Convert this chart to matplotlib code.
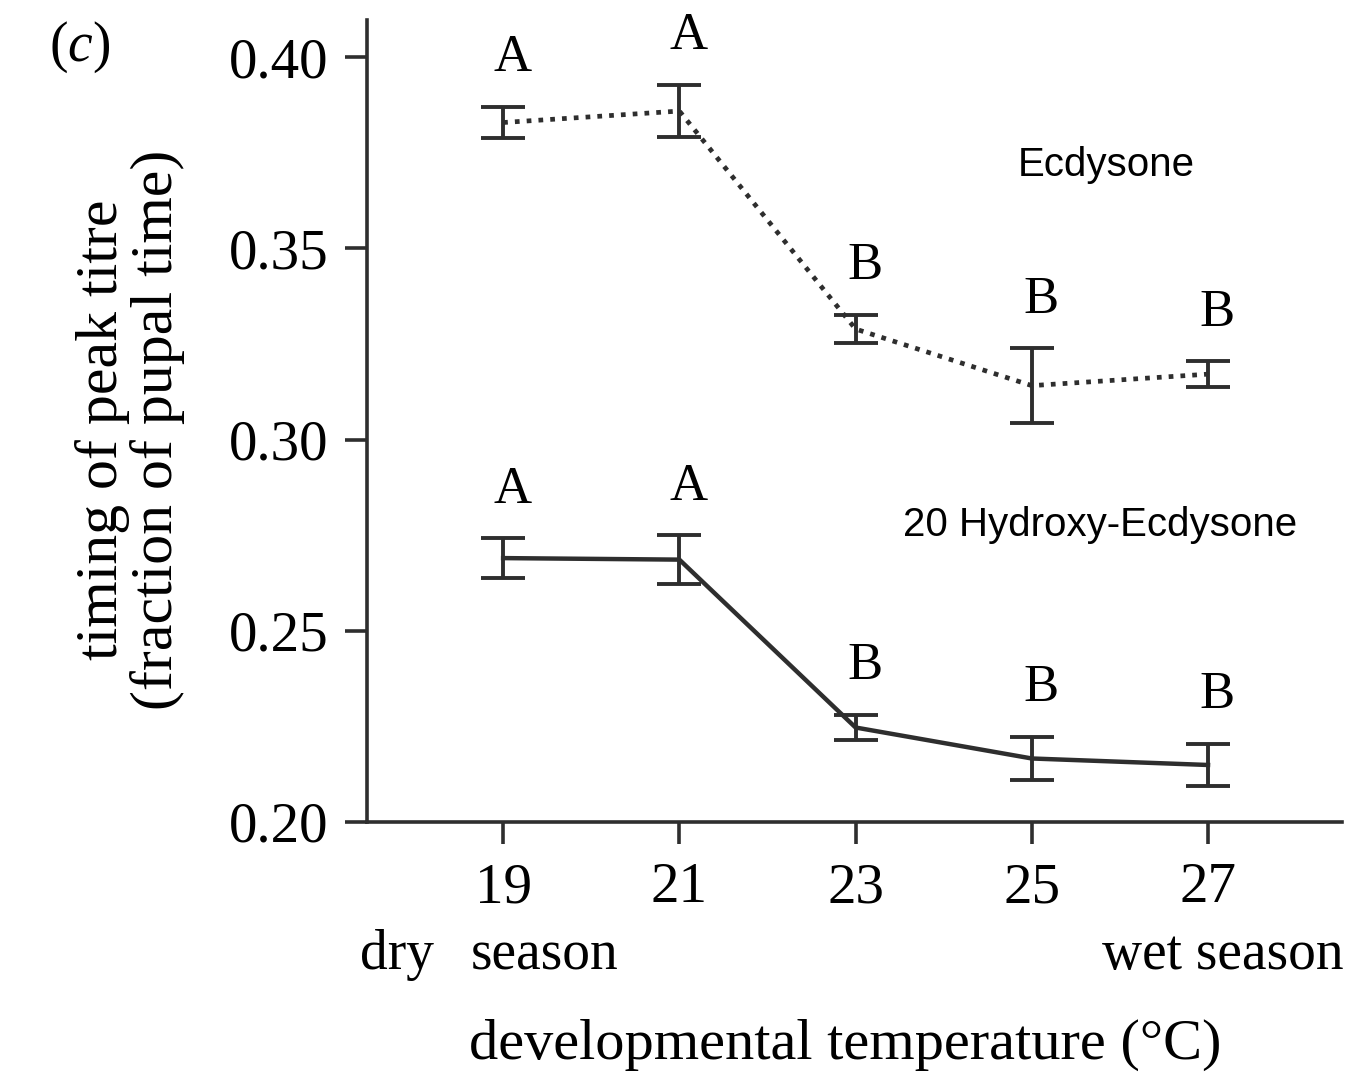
import numpy as np
import matplotlib
matplotlib.use("Agg")
import matplotlib.pyplot as plt

# valores
temps = [19, 21, 23, 25, 27]
ecd_mean = [0.3829, 0.3859, 0.3289, 0.3141, 0.3171]
ecd_err = [0.0041, 0.0068, 0.0037, 0.0098, 0.0034]
ecd_letters = ["A", "A", "B", "B", "B"]
he_mean = [0.2690, 0.2686, 0.2247, 0.2166, 0.2149]
he_err = [0.0052, 0.0064, 0.0033, 0.0056, 0.0055]
he_letters = ["A", "A", "B", "B", "B"]
yticks = [0.20, 0.25, 0.30, 0.35, 0.40]

plt.rcParams["font.family"] = ["Liberation Serif", "DejaVu Serif"]
plt.rcParams["mathtext.fontset"] = "custom"
plt.rcParams["mathtext.rm"] = "Liberation Serif"
plt.rcParams["mathtext.it"] = "Liberation Serif:italic"

ink = "#2e2e2e"

fig = plt.figure(figsize=(13.58, 10.77), dpi=100)
ax = fig.add_axes([0.2703, 0.2368, 0.9882 - 0.2703, 0.9814 - 0.2368])

# ecdysone (punteada)
ax.errorbar(temps, ecd_mean, yerr=ecd_err, color=ink, lw=3.4,
            linestyle=(0, (1, 1.5)), dash_capstyle="butt",
            elinewidth=2.8, capsize=16, capthick=2.8)
# 20-hidroxi-ecdisona (continua)
ax.errorbar(temps, he_mean, yerr=he_err, color=ink, lw=3.2,
            elinewidth=2.8, capsize=16, capthick=2.8)

for x, m, e, s in zip(temps, ecd_mean, ecd_err, ecd_letters):
    ax.annotate(s, (x, m + e), xytext=(6.5, 35), textcoords="offset points",
                ha="center", va="center", fontsize=38, color="black")
for x, m, e, s in zip(temps, he_mean, he_err, he_letters):
    ax.annotate(s, (x, m + e), xytext=(6.5, 35), textcoords="offset points",
                ha="center", va="center", fontsize=38, color="black")

ax.text(25.84, 0.3718, "Ecdysone", family="Liberation Sans", fontsize=29,
        ha="center", va="center")
ax.text(25.77, 0.2776, "20 Hydroxy-Ecdysone", family="Liberation Sans",
        fontsize=29, ha="center", va="center")

ax.set_xlim(17.456, 28.52)
ax.set_ylim(0.20, 0.4097)
ax.set_xticks(temps)
ax.set_yticks(yticks)
ax.set_yticklabels([f"{v:.2f}" for v in yticks])
ax.tick_params(axis="both", direction="out", length=16, width=2.6,
               color=ink, labelsize=41)
ax.tick_params(axis="x", pad=13)
ax.tick_params(axis="y", pad=12)
for side in ["top", "right"]:
    ax.spines[side].set_visible(False)
for side in ["left", "bottom"]:
    ax.spines[side].set_linewidth(2.6)
    ax.spines[side].set_color(ink)

fig.text(130 / 1358, 1 - 430 / 1077,
         "timing of peak titre\n(fraction of pupal time)",
         rotation=90, ha="center", va="center", fontsize=43, linespacing=1.0)
fig.text(845 / 1358, 1 - 1045 / 1077, "developmental temperature (°C)",
         ha="center", va="center", fontsize=42)
fig.text(397 / 1358, 1 - 955 / 1077, "dry", ha="center", va="center", fontsize=40)
fig.text(545 / 1358, 1 - 955 / 1077, "season", ha="center", va="center", fontsize=40)
fig.text(1223 / 1358, 1 - 955 / 1077, "wet season", ha="center", va="center", fontsize=40)
fig.text(80 / 1358, 1 - 47 / 1077, "$(c)$", ha="center", va="center", fontsize=40)

fig.savefig("out.png", dpi=100)
